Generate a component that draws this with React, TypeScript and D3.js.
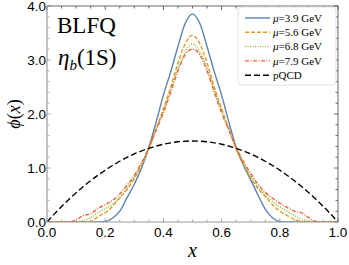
import React from "react";
import * as d3 from "d3";

// sample positions along x
const xs = [
  0, 0.025, 0.05, 0.075, 0.1, 0.125, 0.15, 0.175, 0.2, 0.225, 0.25, 0.275, 0.3, 0.325, 0.35, 0.375, 0.4, 0.425,
  0.45, 0.475, 0.5, 0.525, 0.55, 0.575, 0.6, 0.625, 0.65, 0.675, 0.7, 0.725, 0.75, 0.775, 0.8, 0.825, 0.85, 0.875,
  0.9, 0.925, 0.95, 0.975, 1,
];

const mu39 = [
  0, 0, 0, 0, 0, 0, 0, 0, 0.01, 0.07, 0.2, 0.45, 0.7, 1.0, 1.38, 1.85, 2.35, 2.78, 3.25, 3.68, 3.85, 3.68, 3.25,
  2.78, 2.35, 1.85, 1.38, 1.05, 0.78, 0.5, 0.24, 0.08, 0.01, 0, 0, 0, 0, 0, 0, 0, 0,
];
const mu56 = [
  0, 0, 0, 0, 0, 0, 0.01, 0.1, 0.17, 0.29, 0.45, 0.6, 0.8, 1.05, 1.35, 1.72, 2.1, 2.5, 2.95, 3.3, 3.46, 3.3, 2.95,
  2.5, 2.1, 1.72, 1.35, 1.07, 0.82, 0.62, 0.47, 0.32, 0.2, 0.12, 0.05, 0.01, 0, 0, 0, 0, 0,
];
const mu68 = [
  0, 0, 0, 0, 0, 0.03, 0.08, 0.17, 0.25, 0.33, 0.45, 0.62, 0.83, 1.08, 1.38, 1.72, 2.07, 2.45, 2.85, 3.15, 3.3, 3.15,
  2.85, 2.45, 2.07, 1.72, 1.38, 1.1, 0.86, 0.65, 0.5, 0.38, 0.28, 0.2, 0.12, 0.05, 0.01, 0, 0, 0, 0,
];
const mu79 = [
  0, 0, 0, 0, 0.04, 0.12, 0.15, 0.25, 0.32, 0.4, 0.52, 0.68, 0.86, 1.1, 1.38, 1.7, 2.02, 2.4, 2.8, 3.1, 3.2, 3.1, 2.8,
  2.4, 2.02, 1.7, 1.38, 1.12, 0.9, 0.7, 0.55, 0.44, 0.35, 0.27, 0.2, 0.17, 0.08, 0.01, 0, 0, 0,
];
const pqcd = [
  0, 0.146, 0.285, 0.416, 0.54, 0.656, 0.765, 0.866, 0.96, 1.046, 1.125, 1.196, 1.26, 1.316, 1.365, 1.406, 1.44,
  1.466, 1.485, 1.496, 1.5, 1.496, 1.485, 1.466, 1.44, 1.406, 1.365, 1.316, 1.26, 1.196, 1.125, 1.046, 0.96, 0.866,
  0.765, 0.656, 0.54, 0.416, 0.285, 0.146, 0,
];

const xTicks = [0, 0.2, 0.4, 0.6, 0.8, 1.0];
const yTicks = [0, 1, 2, 3, 4];
const legendMus = ["3.9", "5.6", "6.8", "7.9"];

const series = [
  { name: "mu39", values: mu39, color: "#5e81b5", dash: "" },
  { name: "mu56", values: mu56, color: "#e19c24", dash: "4,2" },
  { name: "mu68", values: mu68, color: "#8fb032", dash: "1,1.5" },
  { name: "mu79", values: mu79, color: "#eb6235", dash: "4,1.5,1,1.5" },
  { name: "pqcd", values: pqcd, color: "#000000", dash: "6,3" },
];

export default function App() {
  const w = 349;
  const h = 265;
  const left = 47;
  const right = 338;
  const top = 6;
  const bottom = 222;

  const x = d3.scaleLinear().domain([0, 1]).range([left, right]);
  const y = d3.scaleLinear().domain([0, 4]).range([bottom, top]);

  const line = d3
    .line<number>()
    .x((_, i) => x(xs[i]))
    .y((d) => y(d))
    .curve(d3.curveMonotoneX);

  const xMinor = d3.range(0, 1.0001, 0.05);
  const yMinor = d3.range(0, 4.0001, 0.2);
  const frame = "#9a9a9a";
  const sans = "Liberation Sans, Arial, sans-serif";
  const serif = "Liberation Serif, Times New Roman, serif";

  return (
    <svg width={w} height={h} style={{ position: "absolute", left: 0, top: 0 }}>
      <rect width={w} height={h} fill="white" />
      <defs>
        <clipPath id="plot">
          <rect x={left} y={top} width={right - left} height={bottom - top} />
        </clipPath>
      </defs>

      {/* frame ticks */}
      {xMinor.map((t, i) => {
        const major = Math.abs(t * 5 - Math.round(t * 5)) < 1e-6;
        const len = major ? 4 : 2.5;
        return (
          <g key={"xt" + i} stroke={frame} strokeWidth={0.8}>
            <line x1={x(t)} x2={x(t)} y1={bottom} y2={bottom - len} />
            <line x1={x(t)} x2={x(t)} y1={top} y2={top + len} stroke="#444" />
          </g>
        );
      })}
      {yMinor.map((t, i) => {
        const major = Math.abs(t - Math.round(t)) < 1e-6;
        const len = major ? 4 : 2.5;
        return (
          <g key={"yt" + i} stroke={frame} strokeWidth={0.8}>
            <line x1={left} x2={left + len} y1={y(t)} y2={y(t)} />
            <line x1={right} x2={right - len} y1={y(t)} y2={y(t)} stroke="#444" />
          </g>
        );
      })}

      <g clipPath="url(#plot)">
        {series.map((s) => (
          <path
            key={s.name}
            d={line(s.values) ?? ""}
            fill="none"
            stroke={s.color}
            strokeWidth={1.4}
            strokeDasharray={s.dash}
          />
        ))}
      </g>

      {/* frame */}
      <line x1={left} x2={right} y1={top} y2={top} stroke="#444" strokeWidth={0.8} />
      <line x1={right} x2={right} y1={top} y2={bottom} stroke="#444" strokeWidth={0.8} />
      <line x1={left} x2={left} y1={top} y2={bottom} stroke={frame} strokeWidth={1.2} />
      <line x1={left} x2={right} y1={bottom} y2={bottom} stroke={frame} strokeWidth={1.2} />

      {/* tick labels */}
      {xTicks.map((t) => (
        <text key={"xl" + t} x={x(t)} y={bottom + 15} textAnchor="middle" fontFamily={sans} fontSize={13.5}>
          {t.toFixed(1)}
        </text>
      ))}
      {yTicks.map((t) => (
        <text key={"yl" + t} x={left - 1} y={y(t) + 5} textAnchor="end" fontFamily={sans} fontSize={13.5}>
          {t.toFixed(1)}
        </text>
      ))}

      {/* axis titles */}
      <text x={(left + right) / 2} y={257} textAnchor="middle" fontFamily={serif} fontStyle="italic" fontSize={20}>
        x
      </text>
      <text
        transform={`translate(20,${(top + bottom) / 2}) rotate(-90)`}
        textAnchor="middle"
        fontFamily={serif}
        fontSize={18}
      >
        <tspan fontStyle="italic">ϕ</tspan>(<tspan fontStyle="italic">x</tspan>)
      </text>

      {/* annotations */}
      <text x={57} y={33} fontFamily={serif} fontSize={23}>
        BLFQ
      </text>
      <text x={58} y={65} fontFamily={serif} fontSize={23}>
        <tspan fontStyle="italic">η</tspan>
        <tspan fontStyle="italic" fontSize={15} dy={5}>
          b
        </tspan>
        <tspan dy={-5}>(1S)</tspan>
      </text>

      {/* legend */}
      <rect x={238} y={7} width={98} height={78} rx={4} fill="white" stroke="#d8d8d8" strokeWidth={0.8} />
      {series.map((s, i) => {
        const ly = 18 + i * 14.3;
        return (
          <g key={"lg" + s.name}>
            <line x1={245} x2={270} y1={ly} y2={ly} stroke={s.color} strokeWidth={1.4} strokeDasharray={s.dash} />
            <text x={273} y={ly + 3.8} fontFamily={serif} fontSize={11}>
              {i < 4 ? (
                <>
                  <tspan fontStyle="italic">μ</tspan>={legendMus[i]} GeV
                </>
              ) : (
                "pQCD"
              )}
            </text>
          </g>
        );
      })}
    </svg>
  );
}
